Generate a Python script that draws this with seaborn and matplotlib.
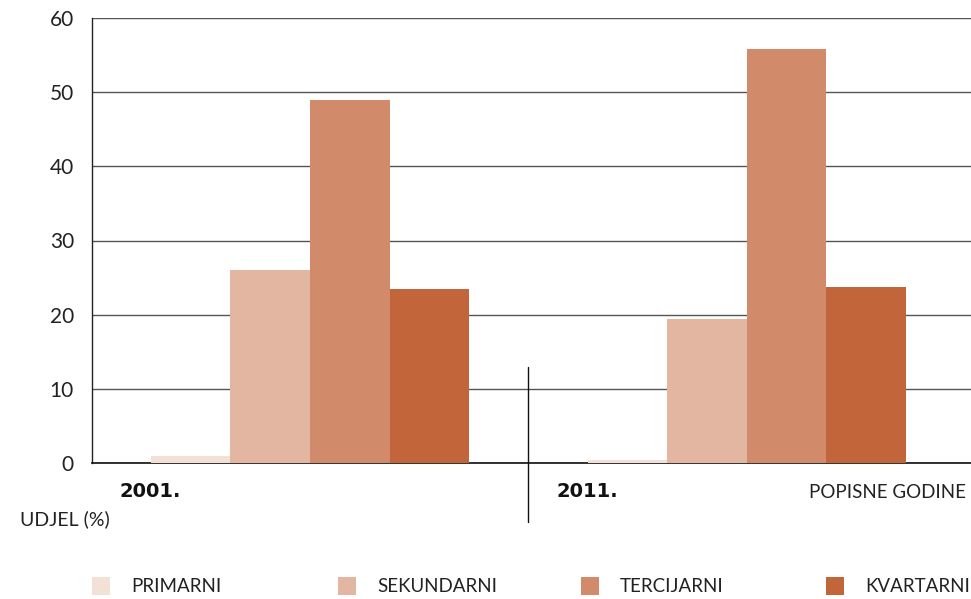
import pandas as pd
import matplotlib.pyplot as plt
import matplotlib.transforms as mtransforms
from matplotlib.patches import Rectangle
import seaborn as sns

# Podaci
godine = ['2001.', '2011.']
sektori = ['PRIMARNI', 'SEKUNDARNI', 'TERCIJARNI', 'KVARTARNI']
udio_2001 = [1.0, 26.0, 48.9, 23.5]
udio_2011 = [0.4, 19.4, 55.8, 23.7]
boje = ['#F3E0D6', '#E2B6A1', '#D18B6A', '#C3653A']

redovi = []
for g, vrijednosti in zip(godine, [udio_2001, udio_2011]):
    for s, v in zip(sektori, vrijednosti):
        redovi.append({'godina': g, 'sektor': s, 'udio': v})
dados = pd.DataFrame(redovi)

sns.set_style('white')
plt.rcParams['font.family'] = ['Lato', 'DejaVu Sans']

fig = plt.figure(figsize=(9.71, 5.99), dpi=100)
ax = fig.add_axes([92 / 971, 1 - 463 / 599, 879 / 971, 445 / 599])

sns.barplot(data=dados, x='godina', y='udio', hue='sektor', hue_order=sektori,
            palette=boje, width=0.728, saturation=1, legend=False, ax=ax,
            linewidth=0, edgecolor='none', zorder=3)

ax.set_ylim(0, 60)
ax.set_xlim(-0.499, 1.513)
ax.set_yticks(range(0, 61, 10))
ax.yaxis.grid(True, color='#555555', linewidth=1, zorder=0)
ax.set_axisbelow(True)
ax.tick_params(axis='y', length=0, pad=13, labelsize=15, labelcolor='#222222')
ax.set_xticks([])
ax.set_xlabel('')
ax.set_ylabel('')
for s in ['top', 'right']:
    ax.spines[s].set_visible(False)
ax.spines['left'].set_color('#222222')
ax.spines['bottom'].set_color('#111111')
ax.spines['left'].set_linewidth(1)
ax.spines['bottom'].set_linewidth(1.2)

# razdjelnik između godina
trans = mtransforms.blended_transform_factory(ax.transData, ax.transAxes)
ax.plot([0.5, 0.5], [0.216, -0.133], transform=trans, clip_on=False,
        color='#111111', linewidth=1)

# oznake godina
for xpos, g in zip([-0.436, 0.564], godine):
    ax.text(xpos, -0.065, g, transform=trans, ha='left', va='center',
            fontsize=14, fontweight='bold', color='#111111',
            family=['DejaVu Sans'])

fig.text(966 / 971, 1 - 492 / 599, 'POPISNE GODINE', ha='right', va='center',
         fontsize=13.5, color='#222222')
fig.text(20 / 971, 1 - 519 / 599, 'UDJEL (%)', ha='left', va='center',
         fontsize=14, color='#222222')

# legenda
leg_x = [92, 338, 581, 826]
for xp, s, b in zip(leg_x, sektori, boje):
    fig.patches.append(Rectangle((xp / 971, 1 - 595 / 599), 18 / 971, 18 / 599,
                                 transform=fig.transFigure, facecolor=b,
                                 edgecolor='none'))
    fig.text((xp + 39) / 971, 1 - 587 / 599, s, ha='left', va='center',
             fontsize=13.5, color='#222222')

fig.savefig('out.png', dpi=100)
